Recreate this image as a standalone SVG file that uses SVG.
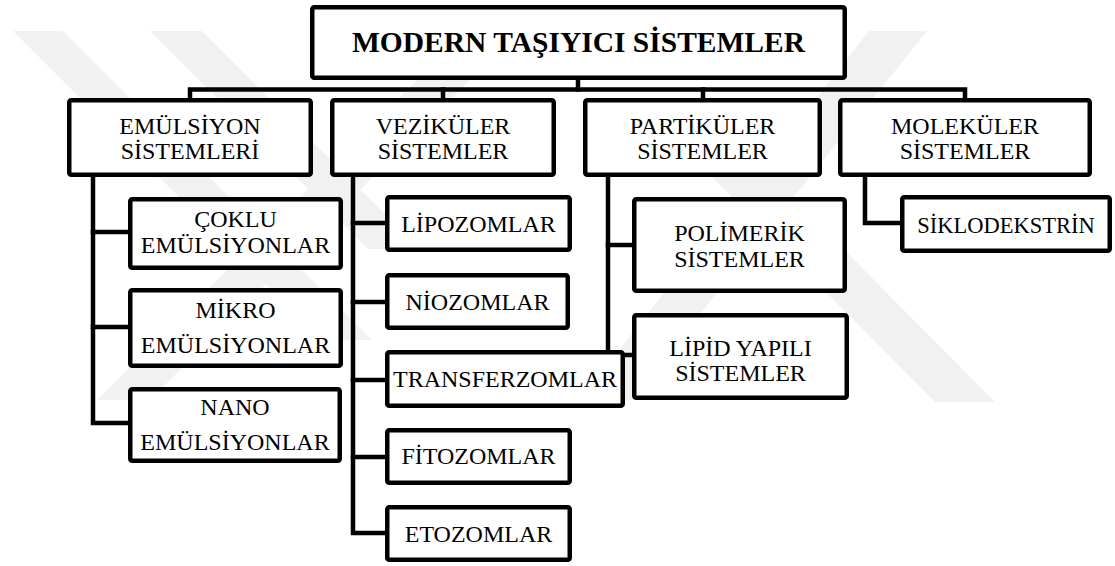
<svg xmlns="http://www.w3.org/2000/svg" width="1115" height="566" viewBox="0 0 1115 566">
<style>
.box{fill:#ffffff;stroke:#000000;stroke-width:4.5}
.ln{fill:none;stroke:#000000;stroke-width:4.5;stroke-linejoin:miter;stroke-linecap:square}
.t{font-family:"Liberation Serif","Times New Roman",serif;font-size:24px;fill:#000000;text-anchor:middle}
.tt{font-family:"Liberation Serif","Times New Roman",serif;font-size:29.5px;font-weight:bold;fill:#000000;text-anchor:middle}
.wm{fill:#f1f1f1}
</style>
<rect x="0" y="0" width="1115" height="566" fill="#ffffff"/>
<g id="watermark">
<polygon class="wm" points="13,31 63,31 372,340 322,340"/>
<polygon class="wm" points="150,31 202,31 420,249 368,249"/>
<polygon class="wm" points="97,400 150,400 519,31 466,31"/>
<polygon class="wm" points="869,31 927,31 631,400 580,400"/>
<polygon class="wm" points="705,170 765,170 995,402 935,402"/>
</g>
<g id="connectors">
<polyline class="ln" points="578,80 578,89.5"/>
<polyline class="ln" points="190,98 190,89.5 965,89.5 965,98"/>
<polyline class="ln" points="443,89.5 443,98"/>
<polyline class="ln" points="703,89.5 703,98"/>
<polyline class="ln" points="93,177 93,423 128,423"/>
<polyline class="ln" points="93,232 128,232"/>
<polyline class="ln" points="93,327 128,327"/>
<polyline class="ln" points="353,177 353,533 385,533"/>
<polyline class="ln" points="353,223 385,223"/>
<polyline class="ln" points="353,302 385,302"/>
<polyline class="ln" points="353,380 385,380"/>
<polyline class="ln" points="353,457 385,457"/>
<polyline class="ln" points="608,177 608,355 632,355"/>
<polyline class="ln" points="608,245 632,245"/>
<polyline class="ln" points="865,177 865,223 900,223"/>
</g>
<g id="n-root">
<rect class="box" x="312.25" y="7.25" width="532.5" height="70.5" rx="2"/>
<text class="tt" x="578.5" y="52">MODERN TAŞIYICI SİSTEMLER</text>
</g>
<g id="n-emulsiyon">
<rect class="box" x="69.25" y="100.25" width="241.5" height="74.5" rx="2"/>
<text class="t" x="190" y="134">EMÜLSİYON</text>
<text class="t" x="190" y="159">SİSTEMLERİ</text>
</g>
<g id="n-vezikuler">
<rect class="box" x="332.25" y="100.25" width="221.5" height="74.5" rx="2"/>
<text class="t" x="443" y="134">VEZİKÜLER</text>
<text class="t" x="443" y="159">SİSTEMLER</text>
</g>
<g id="n-partikuler">
<rect class="box" x="585.25" y="100.25" width="234.5" height="74.5" rx="2"/>
<text class="t" x="702.5" y="134">PARTİKÜLER</text>
<text class="t" x="702.5" y="159">SİSTEMLER</text>
</g>
<g id="n-molekuler">
<rect class="box" x="840.25" y="100.25" width="249.5" height="74.5" rx="2"/>
<text class="t" x="965" y="134">MOLEKÜLER</text>
<text class="t" x="965" y="159">SİSTEMLER</text>
</g>
<g id="n-coklu">
<rect class="box" x="130.25" y="199.25" width="210.5" height="68.5" rx="2"/>
<text class="t" x="235.5" y="227">ÇOKLU</text>
<text class="t" x="235.5" y="253">EMÜLSİYONLAR</text>
</g>
<g id="n-mikro">
<rect class="box" x="130.25" y="290.25" width="210.5" height="75.5" rx="2"/>
<text class="t" x="235.5" y="318">MİKRO</text>
<text class="t" x="235.5" y="353">EMÜLSİYONLAR</text>
</g>
<g id="n-nano">
<rect class="box" x="130.25" y="389.25" width="209.5" height="71.5" rx="2"/>
<text class="t" x="235" y="415">NANO</text>
<text class="t" x="235" y="450">EMÜLSİYONLAR</text>
</g>
<g id="n-lipozom">
<rect class="box" x="387.25" y="197.25" width="182.5" height="52.5" rx="2"/>
<text class="t" x="478.5" y="232">LİPOZOMLAR</text>
</g>
<g id="n-niozom">
<rect class="box" x="387.25" y="275.25" width="180.5" height="52.5" rx="2"/>
<text class="t" x="477.5" y="310">NİOZOMLAR</text>
</g>
<g id="n-transferzom">
<rect class="box" x="387.25" y="352.25" width="235.5" height="53.5" rx="2"/>
<text class="t" x="505" y="387">TRANSFERZOMLAR</text>
</g>
<g id="n-fitozom">
<rect class="box" x="387.25" y="430.25" width="182.5" height="52.5" rx="2"/>
<text class="t" x="478.5" y="464">FİTOZOMLAR</text>
</g>
<g id="n-etozom">
<rect class="box" x="387.25" y="507.25" width="182.5" height="52.5" rx="2"/>
<text class="t" x="478.5" y="542">ETOZOMLAR</text>
</g>
<g id="n-polimerik">
<rect class="box" x="634.25" y="199.25" width="210.5" height="91.5" rx="2"/>
<text class="t" x="739.5" y="241">POLİMERİK</text>
<text class="t" x="739.5" y="267">SİSTEMLER</text>
</g>
<g id="n-lipid">
<rect class="box" x="634.25" y="315.25" width="212.5" height="82.5" rx="2"/>
<text class="t" x="740.5" y="356">LİPİD YAPILI</text>
<text class="t" x="740.5" y="381">SİSTEMLER</text>
</g>
<g id="n-siklodekstrin">
<rect class="box" x="902.25" y="197.25" width="207.5" height="53.5" rx="2"/>
<text class="t" x="1006" y="233" style="font-size:22.5px">SİKLODEKSTRİN</text>
</g>
</svg>
